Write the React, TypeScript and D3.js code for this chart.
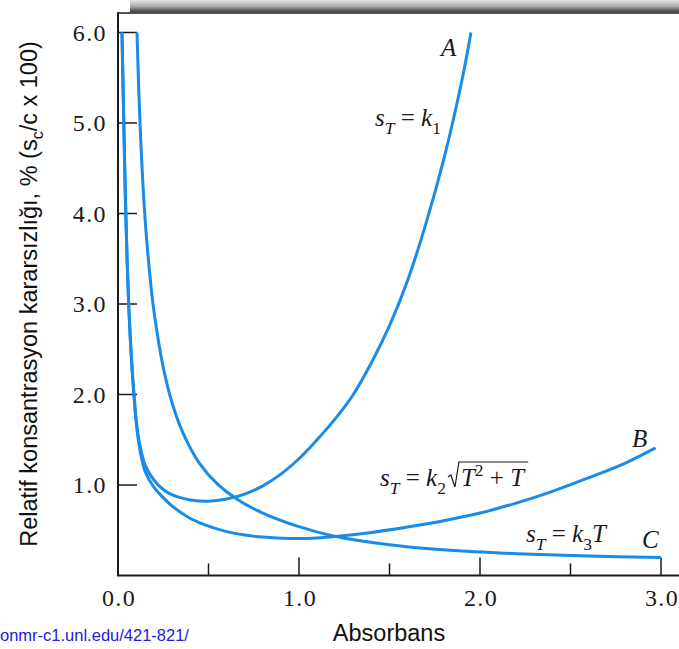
import React, { useEffect, useRef } from "react";
import * as d3 from "d3";

const W = 679;
const H = 649;

// x axis: absorbance
const xLabelValues = [0, 1, 2, 3];
const xMajorTicks = [1, 2, 3];
const xMinorTicks = [0.5, 1.5, 2.5];
// y axis: relative concentration uncertainty, %
const yTickValues = [1, 2, 3, 4, 5, 6];

// Curve A: s_T = k1 (absorbance, %)
const curveA: [number, number][] = [
  [0.022, 6.0], [0.03, 5.2], [0.04, 4.25], [0.05, 3.5], [0.06, 2.95], [0.07, 2.54],
  [0.08, 2.22], [0.09, 1.96], [0.1, 1.73], [0.12, 1.45], [0.15, 1.22], [0.2, 1.05],
  [0.25, 0.95], [0.3, 0.89], [0.4, 0.835], [0.5, 0.82], [0.6, 0.845], [0.7, 0.9],
  [0.8, 0.99], [0.9, 1.12], [1.0, 1.29], [1.1, 1.5], [1.2, 1.73], [1.3, 2.0],
  [1.4, 2.35], [1.5, 2.76], [1.6, 3.26], [1.7, 3.88], [1.8, 4.6], [1.9, 5.47], [1.95, 6.0],
];

// Curve B: s_T = k2 sqrt(T^2 + T)
const curveB: [number, number][] = [
  [0.022, 6.0], [0.03, 5.2], [0.04, 4.25], [0.05, 3.5], [0.06, 2.95], [0.07, 2.54],
  [0.08, 2.21], [0.09, 1.94], [0.1, 1.7], [0.12, 1.4], [0.15, 1.15], [0.2, 0.97],
  [0.25, 0.86], [0.3, 0.765], [0.4, 0.63], [0.5, 0.545], [0.6, 0.485], [0.7, 0.448],
  [0.8, 0.425], [0.95, 0.41], [1.1, 0.415], [1.2, 0.43], [1.4, 0.475], [1.6, 0.535],
  [1.8, 0.605], [2.0, 0.69], [2.2, 0.8], [2.4, 0.93], [2.6, 1.08], [2.8, 1.24], [2.97, 1.41],
];

// Curve C: s_T = k3 T
const curveC: [number, number][] = [
  [0.105, 6.0], [0.115, 5.35], [0.13, 4.62], [0.15, 3.93], [0.175, 3.34], [0.2, 2.9],
  [0.25, 2.3], [0.3, 1.9], [0.36, 1.57], [0.45, 1.24], [0.55, 1.01], [0.656, 0.846],
  [0.8, 0.69], [1.0, 0.54], [1.19, 0.437], [1.5, 0.34], [1.834, 0.278], [2.2, 0.241],
  [2.6, 0.215], [3.0, 0.2],
];

const SERIF = "'Liberation Serif', 'Times New Roman', serif";
const SANS = "'Liberation Sans', Arial, sans-serif";
const BLUE = "#1a8be6";
const INK = "#1a1a1a";

type Part = [string, "i" | "r" | "subi" | "subr" | "sup"];

function mathText(
  g: d3.Selection<SVGGElement, unknown, null, undefined>,
  x: number,
  y: number,
  size: number,
  parts: Part[]
) {
  const t = g
    .append("text")
    .attr("x", x)
    .attr("y", y)
    .attr("font-family", SERIF)
    .attr("font-size", size)
    .attr("fill", INK)
    .style("white-space", "pre");
  let shift = 0;
  parts.forEach(([s, kind]) => {
    const span = t.append("tspan").text(s);
    let target = 0;
    if (kind === "subi" || kind === "subr") target = size * 0.3;
    else if (kind === "sup") target = -size * 0.4;
    span.attr("dy", target - shift);
    shift = target;
    if (kind === "i" || kind === "subi") span.attr("font-style", "italic");
    if (kind !== "i" && kind !== "r") span.attr("font-size", size * 0.7);
  });
  return t;
}

export default function App() {
  const ref = useRef<SVGSVGElement | null>(null);

  useEffect(() => {
    const svg = d3.select(ref.current as SVGSVGElement);
    svg.selectAll("*").remove();

    const x = d3.scaleLinear().domain([0, 3]).range([118, 661]);
    const y = d3.scaleLinear().domain([0, 6]).range([575.5, 32.5]);

    const defs = svg.append("defs");
    const grad = defs
      .append("linearGradient")
      .attr("id", "topShade")
      .attr("x1", 0)
      .attr("y1", 0)
      .attr("x2", 0)
      .attr("y2", 1);
    grad.append("stop").attr("offset", "0%").attr("stop-color", "#e6e6e6");
    grad.append("stop").attr("offset", "55%").attr("stop-color", "#a8a8a8");
    grad.append("stop").attr("offset", "100%").attr("stop-color", "#3c3c3c");

    svg.append("rect").attr("width", W).attr("height", H).attr("fill", "#ffffff");

    // shaded band above the frame
    svg.append("rect").attr("x", 130).attr("y", 0).attr("width", W - 130).attr("height", 12).attr("fill", "url(#topShade)");

    const g = svg.append("g");

    // frame lines
    g.append("line").attr("x1", 117).attr("x2", W).attr("y1", 13).attr("y2", 13).attr("stroke", INK).attr("stroke-width", 1.6);
    g.append("line").attr("x1", 118).attr("x2", 118).attr("y1", 12.5).attr("y2", y(0)).attr("stroke", INK).attr("stroke-width", 2);
    g.append("line").attr("x1", 117).attr("x2", W).attr("y1", y(0)).attr("y2", y(0)).attr("stroke", INK).attr("stroke-width", 2);

    // y ticks (inward) and labels
    yTickValues.forEach((v) => {
      g.append("line").attr("x1", x(0)).attr("x2", x(0) + 19).attr("y1", y(v)).attr("y2", y(v)).attr("stroke", INK).attr("stroke-width", 1.5);
      g.append("text")
        .attr("x", 107)
        .attr("y", y(v) + 8)
        .attr("text-anchor", "end")
        .attr("font-family", SERIF)
        .attr("font-size", 24)
        .attr("letter-spacing", 1.4)
        .attr("fill", INK)
        .text(d3.format(".1f")(v));
    });

    // x ticks (inward) and labels
    xMajorTicks.forEach((v) => {
      g.append("line").attr("x1", x(v)).attr("x2", x(v)).attr("y1", y(0)).attr("y2", y(0) - 18).attr("stroke", INK).attr("stroke-width", 1.5);
    });
    xMinorTicks.forEach((v) => {
      g.append("line").attr("x1", x(v)).attr("x2", x(v)).attr("y1", y(0)).attr("y2", y(0) - 12).attr("stroke", INK).attr("stroke-width", 1.5);
    });
    xLabelValues.forEach((v) => {
      g.append("text")
        .attr("x", x(v) + 1)
        .attr("y", 606)
        .attr("text-anchor", "middle")
        .attr("font-family", SERIF)
        .attr("font-size", 24)
        .attr("letter-spacing", 1.4)
        .attr("fill", INK)
        .text(d3.format(".1f")(v));
    });

    // curves
    const line = d3
      .line<[number, number]>()
      .x((d) => x(d[0]))
      .y((d) => y(d[1]))
      .curve(d3.curveCatmullRom.alpha(0.5));
    [curveC, curveB, curveA].forEach((data) => {
      g.append("path").attr("d", line(data) as string).attr("fill", "none").attr("stroke", BLUE).attr("stroke-width", 3).attr("stroke-linejoin", "round");
    });

    // curve letters
    const letter = (txt: string, lx: number, ly: number) =>
      g.append("text").attr("x", lx).attr("y", ly).attr("font-family", SERIF).attr("font-style", "italic").attr("font-size", 25).attr("fill", INK).text(txt);
    letter("A", 441, 56);
    letter("B", 632, 447);
    letter("C", 642, 548);

    // formulas
    const FS = 25;
    mathText(g, 375, 126, FS, [["s", "i"], ["T", "subi"], [" = ", "r"], ["k", "i"], ["1", "subr"]]);
    mathText(g, 526, 542, FS, [["s", "i"], ["T", "subi"], [" = ", "r"], ["k", "i"], ["3", "subr"], ["T", "i"]]);

    const f2 = mathText(g, 380, 486, FS, [["s", "i"], ["T", "subi"], [" = ", "r"], ["k", "i"], ["2", "subr"]]);
    const f2node = f2.node() as SVGTextElement;
    const b2 = f2node.getBBox();
    const rx = b2.x + b2.width + 2;
    const base = 486;
    const rad = mathText(g, rx + 13, base, FS, [["T", "i"], ["2", "sup"], [" + ", "r"], ["T", "i"]]);
    const rb = (rad.node() as SVGTextElement).getBBox();
    const endX = rb.x + rb.width + 2;
    g.append("path")
      .attr("d", `M${rx},${base - 9} L${rx + 3},${base - 11} L${rx + 7},${base + 1} L${rx + 11},${base - 24} H${endX}`)
      .attr("fill", "none")
      .attr("stroke", INK)
      .attr("stroke-width", 1.2)
      .attr("stroke-linejoin", "miter");

    // axis titles
    g.append("text")
      .attr("x", 389)
      .attr("y", 641)
      .attr("text-anchor", "middle")
      .attr("font-family", SANS)
      .attr("font-size", 23.5)
      .attr("fill", "#111")
      .text("Absorbans");

    const yt = g
      .append("text")
      .attr("transform", "translate(37,294) rotate(-90)")
      .attr("text-anchor", "middle")
      .attr("font-family", SANS)
      .attr("font-size", 23.5)
      .attr("fill", "#111");
    yt.append("tspan").text("Relatif konsantrasyon kararsızlığı, % (s");
    yt.append("tspan").attr("font-size", 16).attr("dy", 6).text("c");
    yt.append("tspan").attr("dy", -6).text("/c x 100)");

    g.append("text")
      .attr("x", 0)
      .attr("y", 641)
      .attr("font-family", SANS)
      .attr("font-size", 16.5)
      .attr("fill", "#2020e0")
      .text("onmr-c1.unl.edu/421-821/");
  }, []);

  return (
    <svg
      ref={ref}
      width={W}
      height={H}
      style={{ position: "absolute", left: 0, top: 0, display: "block" }}
    />
  );
}
